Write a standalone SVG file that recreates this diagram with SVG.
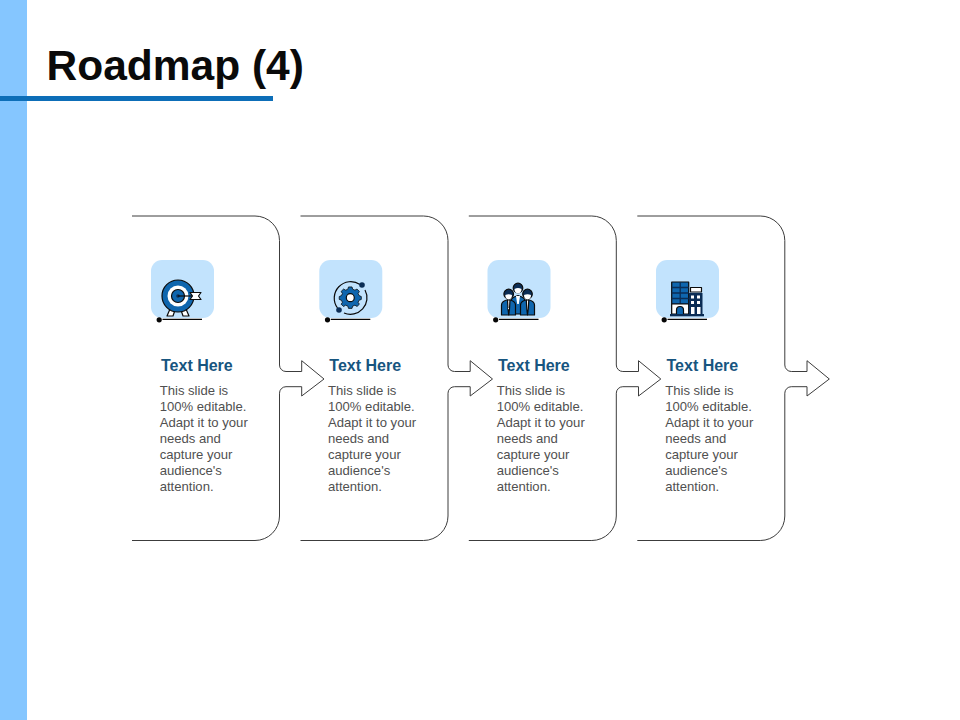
<svg xmlns="http://www.w3.org/2000/svg" width="960" height="720" viewBox="0 0 960 720">
<style>
.title{font:bold 42.5px "Liberation Sans",Arial,sans-serif;fill:#0a0a0a}
.head{font:bold 16px "Liberation Sans",Arial,sans-serif;fill:#17557f}
.body{font:13.1px "Liberation Sans",Arial,sans-serif;fill:#505050}
.flow{fill:none;stroke:#3c3c3c;stroke-width:1}
.tile{fill:#c2e3fd}
.k{stroke:#0b0b0b;stroke-width:1.2;stroke-linejoin:round}
.b{fill:#0f66ae}
.d{fill:#0b2d55}
.w{fill:#fff}
</style>
<defs>
<path id="flow" class="flow" d="M132 216H255A24.500 24.500 0 0 1 279.500 240.500V365A6.500 6.500 0 0 0 286 371.500H301.700V360.700L324 379L301.700 396V386.700H286A6.500 6.500 0 0 0 279.500 393.200V516A24.500 24.500 0 0 1 255 540.500H132"/>
<g id="base">
<rect class="tile" x="151" y="260" width="63" height="58" rx="11"/>
<circle cx="159.2" cy="319.8" r="2.6" fill="#050505"/>
<path d="M162.500 319.300H202" stroke="#050505" stroke-width="1.200"/>
</g>
<g id="copy">
<text class="head" x="161" y="370.700">Text Here</text>
<text class="body" x="159.700" y="395">This slide is</text>
<text class="body" x="159.700" y="411">100% editable.</text>
<text class="body" x="159.700" y="427">Adapt it to your</text>
<text class="body" x="159.700" y="443">needs and</text>
<text class="body" x="159.700" y="459">capture your</text>
<text class="body" x="159.700" y="475">audience's</text>
<text class="body" x="159.700" y="491">attention.</text>
</g>
</defs>
<rect x="0" y="0" width="27" height="720" fill="#85c6ff"/>
<rect x="0" y="96" width="273" height="5" fill="#0d6eb8"/>
<text class="title" x="46.500" y="80">Roadmap (4)</text>
<g id="connectors">
<use href="#flow"/>
<use href="#flow" x="168.500"/>
<use href="#flow" x="336.800"/>
<use href="#flow" x="505.300"/>
</g>
<g id="node-1">
<use href="#base"/>
<path class="w k" d="M170 309L167 316H173L175 310ZM186 309L189 316H183L181 310Z"/>
<circle class="b k" cx="178" cy="296" r="16"/>
<circle class="w" cx="178" cy="296" r="10.500"/>
<circle class="b k" cx="178" cy="296" r="6.500"/>
<circle class="d" cx="178" cy="296" r="1.800"/>
<path class="k" d="M178 296H192" fill="none"/>
<path class="w k" d="M190 292.500H201L198.500 296L201 299.500H190L192.500 296Z"/>
</g>
<g id="node-2">
<use href="#base" x="168.300"/>
<path d="M337.500 308A16.500 16.500 0 0 1 360 284.500M365 290A16.500 16.500 0 0 1 344 313" fill="none" stroke="#0b0b0b" stroke-width="1.200"/>
<circle class="d" cx="362" cy="285" r="2.800"/>
<circle class="d" cx="339" cy="310" r="2.800"/>
<path class="b k" d="M347.500 284.500H353L354 288L357.500 289.500L360.800 287.800L364.500 291.500L362.500 294.800L364 298L367.500 299.500V304L364 305.300L362.500 308.500L364.500 311.500L360.800 315L357.500 313L354 314.500L353 318H347.500L346.500 314.500L343 313L339.800 315L336 311.500L338 308.500L336.500 305.300L333 304V299.500L336.500 298L338 294.800L336 291.500L339.800 287.800L343 289.500L346.500 288Z" transform="translate(350.300 297.700) scale(0.64) translate(-350.300 -301.300)"/>
<circle class="w k" cx="350.300" cy="297.700" r="4"/>
</g>
<g id="node-3">
<use href="#base" x="336.500"/>
<path class="b k" d="M511 314V301Q511 297.500 518 295.500Q525 297.500 525 301V314Z"/>
<path class="w" d="M516 296H520L518.800 304H517.200Z"/>
<circle class="d k" cx="518" cy="288" r="4.800"/>
<path class="w" d="M514.500 289Q518 287 521.500 289Q521.500 293 518 293.500Q514.500 293 514.500 289Z"/>
<path class="b k" d="M501.500 315V305Q501.500 301 508.500 299.500Q515.500 301 515.500 305V315Z"/>
<path class="w k" d="M507.500 300H510L509.500 309L508.700 315L508 309Z"/>
<circle class="d k" cx="508.700" cy="294" r="4.800"/>
<path class="w" d="M505.300 295Q508.700 293.500 512 295Q512 299 508.700 299.500Q505.300 299 505.300 295Z"/>
<path class="b k" d="M520.500 315V305Q520.500 301 527.500 299.500Q534.500 301 534.500 305V315Z"/>
<path class="w k" d="M526.300 300H528.800L528.300 309L527.500 315L526.800 309Z"/>
<circle class="d k" cx="527.500" cy="294" r="4.800"/>
<path class="w" d="M524 295Q527.500 293.500 531 295Q531 299 527.500 299.500Q524 299 524 295Z"/>
</g>
<g id="node-4">
<use href="#base" x="505"/>
<rect class="k" x="671.700" y="282" width="17" height="32" fill="#0f66ae"/>
<path d="M671.700 287.500H688.700M671.700 293H688.700M671.700 298.500H688.700M671.700 304H688.700M680.200 282V304" stroke="#0b2d55" stroke-width="1.300"/>
<rect class="w k" x="671.700" y="304" width="17" height="10"/>
<path class="b k" d="M676.500 314V310A3.500 3.500 0 0 1 683.500 310V314"/>
<rect class="w k" x="690.500" y="287.500" width="11" height="4.500"/>
<rect class="d" x="689" y="293" width="13.500" height="21"/>
<rect class="w" x="691" y="295.500" width="3" height="3"/>
<rect class="w" x="697" y="295.500" width="3" height="3"/>
<rect class="w" x="691" y="301" width="3" height="3"/>
<rect class="w" x="697" y="301" width="3" height="3"/>
<rect class="w" x="691" y="307" width="3.500" height="7"/>
<rect class="w" x="697" y="307" width="3.500" height="7"/>
<rect class="d" x="670" y="314" width="34" height="2.300"/>
</g>
<g id="text-1"><use href="#copy"/></g>
<g id="text-2"><use href="#copy" x="168.300"/></g>
<g id="text-3"><use href="#copy" x="337"/></g>
<g id="text-4"><use href="#copy" x="505.500"/></g>
</svg>
